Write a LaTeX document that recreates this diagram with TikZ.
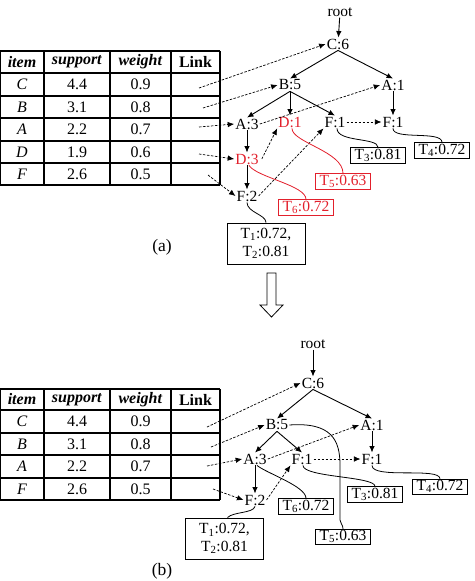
\documentclass[tikz,border=0pt]{standalone}
\usepackage{fontspec}
\setmainfont{Liberation Serif}
\usetikzlibrary{arrows.meta}
\definecolor{tred}{RGB}{226,32,44}
\begin{document}
\begin{tikzpicture}[x=1pt,y=-1pt,
  tn/.style={font=\fontsize{15.5}{18}\selectfont, inner sep=1pt},
  rn/.style={tn, text=tred},
  tb/.style={draw, line width=0.9pt, font=\fontsize{15.5}{18}\selectfont, inner xsep=4pt, inner ysep=1pt, text height=10.5pt, text depth=3pt},
  rb/.style={tb, draw=tred, text=tred},
  mb/.style={draw, line width=0.9pt, font=\fontsize{15.5}{17.5}\selectfont, align=center, minimum width=78pt, minimum height=41pt, inner sep=1pt},
  cl/.style={font=\fontsize{16}{18}\selectfont, inner sep=0pt},
  arr/.style={-{Latex[length=6.5pt,width=5.5pt]}, line width=0.9pt},
  darr/.style={-{Latex[length=6.5pt,width=5.5pt]}, line width=0.7pt, dash pattern=on 2.5pt off 1.5pt},
  cv/.style={line width=0.8pt},
  rcv/.style={cv, draw=tred},
  tl/.style={line width=1.2pt},
  captxt/.style={font=\fontsize{17.5}{20}\selectfont, inner sep=0pt}
]
\useasboundingbox (0,0) rectangle (474,581);

% ================= (a) =================
% table
\foreach \yy in {51,73,96,118,141,163,185} \draw[tl] (0,\yy) -- (220,\yy);
\foreach \xx in {0.6,44,110,171,220} \draw[tl] (\xx,51) -- (\xx,185);
\node[cl] (ah1) at (22,62) {\textbf{\textit{item}}};
\node[cl] (ah2) at (77,62) {\textbf{\textit{support}}};
\node[cl] (ah3) at (140.5,62) {\textbf{\textit{weight}}};
\node[cl] (ah4) at (195.5,62) {\textbf{Link}};
\foreach \yy/\lt/\s/\w [count=\r] in {84.5/C/4.4/0.9, 107/B/3.1/0.8, 129.5/A/2.2/0.7, 152/D/1.9/0.6, 174/F/2.6/0.5}{
  \node[cl] (ar\r c1) at (22,\yy) {\textit{\lt}};
  \node[cl] (ar\r c2) at (77,\yy) {\s};
  \node[cl] (ar\r c3) at (140.5,\yy) {\w};
}
\coordinate (alC) at (199,88);
\coordinate (alB) at (203,108);
\coordinate (alA) at (199,127);
\coordinate (alD) at (199,154);
\coordinate (alF) at (208,175);

% tree nodes
\node[tn] (aroot) at (340,12) {root};
\node[tn] (aC6) at (338,44) {C:6};
\node[tn] (aB5) at (290,85) {B:5};
\node[tn] (aA1) at (393,85) {A:1};
\node[tn] (aA3) at (247,124) {A:3};
\node[rn] (aD1) at (290,122) {D:1};
\node[tn] (aF1m) at (335,122) {F:1};
\node[tn] (aF1r) at (393,122) {F:1};
\node[rn] (aD3) at (247,159) {D:3};
\node[tn] (aF2) at (247,196) {F:2};

\node[tb] (aT3) at (378,155.5) {T\textsubscript{3}:0.81};
\node[tb] (aT4) at (442,150.5) {T\textsubscript{4}:0.72};
\node[rb] (aT5) at (343,181.5) {T\textsubscript{5}:0.63};
\node[rb] (aT6) at (306,207.5) {T\textsubscript{6}:0.72};
\node[mb] (aT12) at (266,243.5) {T\textsubscript{1}:0.72,\\T\textsubscript{2}:0.81};

% solid edges
\draw[arr] (aroot) -- (aC6);
\draw[arr] (aC6.south) -- (aB5.north);
\draw[arr] (aC6.south) -- (aA1.north);
\draw[arr] (aB5.south) -- (aA3.north);
\draw[arr] (aB5.south) -- (aD1.north);
\draw[arr] (aB5.south) -- (aF1m.north);
\draw[arr] (aA1) -- (aF1r);
\draw[arr] (aA3) -- (aD3);
\draw[arr] (aD3) -- (aF2);

% dashed links
\draw[darr] (alC) -- (aC6.west);
\draw[darr] (alB) -- (aB5.west);
\draw[darr] (alA) -- (aA3.west);
\draw[darr] (alD) -- (aD3.west);
\draw[darr] (alF) -- (aF2.west);
\draw[darr] (aA3.east) -- (aA1.west);
\draw[darr] ([xshift=2pt]aD3.east) -- (aD1.south west);
\draw[darr] (aF2.east) -- (aF1m.south west);
\draw[darr] (aF1m) -- (aF1r);

% curves
\draw[rcv] ([xshift=2pt]aD1.south) .. controls +(0,14) and +(0,-22) .. (aT5.north);
\draw[rcv] ([xshift=2pt]aD3.south) .. controls +(8,12) and +(0,-14) .. (aT6.north);
\draw[cv] ([xshift=2pt]aF1m.south) .. controls +(0,14) and +(0,-10) .. (aT3.north);
\draw[cv] (aF1r.south) .. controls +(0,12) and +(0,-12) .. (aT4.north);
\draw[cv] (aF2.south) .. controls +(0,10) and +(0,-8) .. (aT12.north);

\node[captxt] (alab) at (162,247) {(a)};

% big hollow arrow
\draw[line width=0.8pt] (267,273) -- (276,273) -- (276,305) -- (283,305) -- (271.5,317) -- (260,305) -- (267,305) -- cycle;

% ================= (b) =================
\foreach \yy in {389,410,433,455,478,500} \draw[tl] (0,\yy) -- (220,\yy);
\foreach \xx in {0.6,44,110,171,220} \draw[tl] (\xx,389) -- (\xx,500);
\node[cl] (bh1) at (22,399.5) {\textbf{\textit{item}}};
\node[cl] (bh2) at (77,399.5) {\textbf{\textit{support}}};
\node[cl] (bh3) at (140.5,399.5) {\textbf{\textit{weight}}};
\node[cl] (bh4) at (195.5,399.5) {\textbf{Link}};
\foreach \yy/\lt/\s/\w [count=\r] in {421.5/C/4.4/0.9, 444/B/3.1/0.8, 466.5/A/2.2/0.7, 489/F/2.6/0.5}{
  \node[cl] (br\r c1) at (22,\yy) {\textit{\lt}};
  \node[cl] (br\r c2) at (77,\yy) {\s};
  \node[cl] (br\r c3) at (140.5,\yy) {\w};
}
\coordinate (blC) at (207,427);
\coordinate (blB) at (211,447);
\coordinate (blA) at (207,466);
\coordinate (blF) at (213,489);

\node[tn] (broot) at (313,344) {root};
\node[tn] (bC6) at (313,383) {C:6};
\node[tn] (bB5) at (277,425) {B:5};
\node[tn] (bA1) at (372,425) {A:1};
\node[tn] (bA3) at (255,459) {A:3};
\node[tn] (bF1m) at (302,459) {F:1};
\node[tn] (bF1r) at (372,459) {F:1};
\node[tn] (bF2) at (255,500) {F:2};

\node[tb] (bT6) at (306,506.5) {T\textsubscript{6}:0.72};
\node[tb] (bT3) at (375,494.5) {T\textsubscript{3}:0.81};
\node[tb] (bT4) at (440,487) {T\textsubscript{4}:0.72};
\node[tb] (bT5) at (343,537) {T\textsubscript{5}:0.63};
\node[mb] (bT12) at (224.5,538.5) {T\textsubscript{1}:0.72,\\T\textsubscript{2}:0.81};

\draw[arr] (broot) -- (bC6);
\draw[arr] (bC6.south) -- (bB5.north);
\draw[arr] (bC6.south) -- (bA1.north);
\draw[arr] (bB5.south) -- (bA3.north);
\draw[arr] (bB5.south) -- (bF1m.north);
\draw[arr] (bA1) -- (bF1r);
\draw[arr] (bA3) -- (bF2);

\draw[darr] (blC) -- (bC6.west);
\draw[darr] (blB) -- (bB5.west);
\draw[darr] (blA) -- (bA3.west);
\draw[darr] (blF) -- (bF2.west);
\draw[darr] (bA3.east) -- (bA1.west);
\draw[darr] (bF2.east) -- (bF1m.south west);
\draw[darr] (bF1m) -- (bF1r);

\coordinate (bv) at (340,465);
\draw[cv] (bB5.east) .. controls +(42,-3) and +(0,-25) .. (bv) -- (340,520) .. controls (340,524) and (343,524) .. (bT5.north);
\draw[cv] ([xshift=2pt]bA3.south) .. controls +(10,8) and +(0,-12) .. (bT6.north);
\draw[cv] ([xshift=1pt]bF1m.south) .. controls +(0,12) and +(0,-10) .. (bT3.north);
\draw[cv] (bF1r.south) .. controls +(0,14) and +(0,-12) .. (bT4.north);
\draw[cv] (bF2.south) .. controls +(-2,7) and +(6,-6) .. ([xshift=3pt]bT12.north);

\node[captxt] (blab) at (162,571) {(b)};
\end{tikzpicture}
\end{document}
